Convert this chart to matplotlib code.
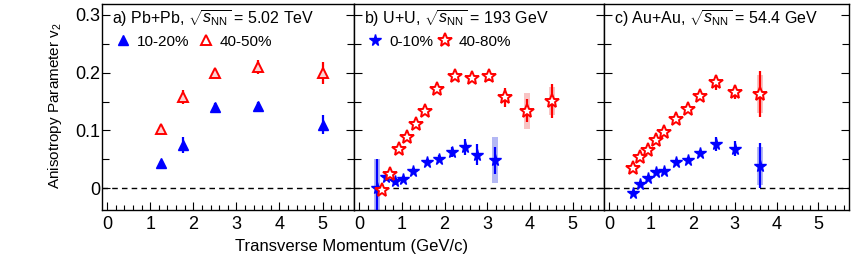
import matplotlib
matplotlib.use("Agg")
import matplotlib.pyplot as plt
from matplotlib import font_manager
from matplotlib.patches import Rectangle
from matplotlib.lines import Line2D
from matplotlib.ticker import MultipleLocator
import numpy as np

names = {f.name for f in font_manager.fontManager.ttflist}
FONT = "Liberation Sans" if "Liberation Sans" in names else "DejaVu Sans"
NARROW = "Liberation Sans Narrow" if "Liberation Sans Narrow" in names else FONT
plt.rcParams["font.family"] = [FONT, "DejaVu Sans"]
plt.rcParams["mathtext.fontset"] = "custom"
plt.rcParams["mathtext.rm"] = FONT
plt.rcParams["mathtext.it"] = FONT + ":italic"

# ---------------- data ----------------
# a) Pb+Pb 5.02 TeV
pb_x = [1.25, 1.75, 2.5, 3.5, 5.0]
pb_1020 = [0.043, 0.075, 0.141, 0.142, 0.110]
pb_1020_err = [0.004, 0.014, 0.006, 0.007, 0.016]
pb_4050 = [0.102, 0.158, 0.200, 0.210, 0.200]
pb_4050_err = [0.005, 0.012, 0.007, 0.012, 0.019]

# b) U+U 193 GeV
uu_x_c = [0.42, 0.63, 0.85, 1.03, 1.27, 1.58, 1.87, 2.18, 2.47, 2.76, 3.17]
uu_010 = [0.000, 0.020, 0.012, 0.016, 0.029, 0.046, 0.051, 0.062, 0.071, 0.058, 0.048]
uu_010_err = [0.050, 0.008, 0.006, 0.005, 0.005, 0.005, 0.006, 0.009, 0.014, 0.018, 0.023]
uu_010_sys = [0.050, 0.0, 0.0, 0.0, 0.0, 0.0, 0.0, 0.0, 0.0, 0.0, 0.040]
uu_x_p = [0.53, 0.73, 0.94, 1.13, 1.34, 1.53, 1.83, 2.24, 2.64, 3.03, 3.42, 3.92, 4.52]
uu_4080 = [-0.003, 0.024, 0.068, 0.089, 0.111, 0.134, 0.171, 0.195, 0.190, 0.194, 0.157, 0.134, 0.151]
uu_4080_err = [0.004, 0.004, 0.004, 0.004, 0.004, 0.005, 0.005, 0.006, 0.006, 0.008, 0.017, 0.020, 0.030]
uu_4080_sys = [0, 0, 0, 0, 0, 0, 0, 0, 0, 0, 0, 0.031, 0.025]

# c) Au+Au 54.4 GeV
au_x = [0.57, 0.74, 0.94, 1.13, 1.32, 1.60, 1.89, 2.17, 2.55, 3.00, 3.61]
au_c = [-0.009, 0.007, 0.018, 0.027, 0.030, 0.045, 0.049, 0.061, 0.076, 0.068, 0.039]
au_c_err = [0.004, 0.003, 0.003, 0.003, 0.003, 0.004, 0.004, 0.005, 0.012, 0.013, 0.039]
au_c_sys = [0, 0, 0, 0, 0, 0, 0, 0, 0, 0, 0.033]
au_p = [0.035, 0.053, 0.066, 0.083, 0.097, 0.119, 0.137, 0.159, 0.183, 0.166, 0.163]
au_p_err = [0.004, 0.004, 0.004, 0.004, 0.004, 0.004, 0.005, 0.006, 0.013, 0.012, 0.040]
au_p_sys = [0, 0, 0, 0, 0, 0, 0, 0, 0, 0, 0.033]

xticks = [0, 1, 2, 3, 4, 5]
yticks = [0, 0.1, 0.2, 0.3]
ytick_labels = ["0", "0.1", "0.2", "0.3"]

BLUE = "#0000ff"
RED = "#ff0000"
LBLUE = "#b4b8f4"
LRED = "#f8c4c4"

W, H = 851, 266
fig = plt.figure(figsize=(W / 100, H / 100), dpi=100)

def px_axes(x0, x1, y0=4, y1=210):
    return fig.add_axes([x0 / W, 1 - y1 / H, (x1 - x0) / W, (y1 - y0) / H])

axes = [px_axes(102, 354), px_axes(354, 604), px_axes(604, 849)]

for i, ax in enumerate(axes):
    ax.set_xlim(-0.12, 5.73)
    ax.set_ylim(-0.038, 0.319)
    ax.axhline(0, color="black", lw=1.0, ls=(0, (4, 3)), zorder=1)
    ax.xaxis.set_major_locator(MultipleLocator(1))
    ax.xaxis.set_minor_locator(MultipleLocator(0.2))
    ax.yaxis.set_major_locator(MultipleLocator(0.1))
    ax.yaxis.set_minor_locator(MultipleLocator(0.05))
    ax.tick_params(which="both", direction="in", top=False, right=True,
                   width=0.8, colors="black")
    ax.tick_params(which="major", length=6)
    ax.tick_params(which="minor", length=3.5)
    ax.tick_params(axis="y", which="minor", length=5)
    ax.set_xticks(xticks)
    ax.set_xticklabels([str(t) for t in xticks], fontsize=13, family=NARROW)
    ax.tick_params(axis="x", pad=4)
    ax.set_yticks(yticks)
    if i == 0:
        ax.set_yticklabels(ytick_labels, fontsize=13)
        ax.tick_params(axis="y", pad=1)
    else:
        ax.set_yticklabels([])
    for s in ax.spines.values():
        s.set_linewidth(1.0)

def sys_boxes(ax, x, y, s, color):
    for xi, yi, si in zip(x, y, s):
        if si > 0:
            ax.add_patch(Rectangle((xi - 0.07, yi - si), 0.14, 2 * si,
                                   facecolor=color, edgecolor="none", zorder=2))

def proxy(marker, ms, mfc, mec, mew=1.0):
    return Line2D([], [], ls="none", marker=marker, ms=ms, mfc=mfc, mec=mec, mew=mew)

# panel a
ax = axes[0]
ax.errorbar(pb_x, pb_1020, yerr=pb_1020_err, fmt="^", color=BLUE, ms=6.5,
            elinewidth=1.6, capsize=0, mec=BLUE, mfc=BLUE, zorder=4)
ax.errorbar(pb_x, pb_4050, yerr=pb_4050_err, fmt="^", color=RED, ms=6.5,
            elinewidth=1.6, capsize=0, mec=RED, mfc="#fbd4d4", mew=1.4, zorder=4)
ax.text(0.04, 0.975, r"a) Pb+Pb, $\sqrt{s_{\rm NN}}$ = 5.02 TeV", transform=ax.transAxes,
        fontsize=11.5, va="top", ha="left")
ax.legend([proxy("^", 6.5, BLUE, BLUE), proxy("^", 6.5, "white", RED, 1.4)],
          ["10-20%", "40-50%"],
          loc="upper left", bbox_to_anchor=(0.03, 0.88), ncol=2, frameon=False,
          fontsize=11, handlelength=1.0, handletextpad=0.4, columnspacing=0.55,
          borderaxespad=0)

# panel b
ax = axes[1]
sys_boxes(ax, uu_x_c, uu_010, uu_010_sys, LBLUE)
sys_boxes(ax, uu_x_p, uu_4080, uu_4080_sys, LRED)
ax.errorbar(uu_x_c, uu_010, yerr=uu_010_err, fmt="*", color=BLUE, ms=8.5,
            elinewidth=1.6, capsize=0, mec=BLUE, mfc=BLUE, zorder=4)
ax.errorbar(uu_x_p, uu_4080, yerr=uu_4080_err, fmt="*", color=RED, ms=10,
            elinewidth=1.6, capsize=0, mec=RED, mfc="white", mew=1.4, zorder=4)
ax.text(0.04, 0.975, r"b) U+U, $\sqrt{s_{\rm NN}}$ = 193 GeV", transform=ax.transAxes,
        fontsize=11.5, va="top", ha="left")
ax.legend([proxy("*", 8.5, BLUE, BLUE), proxy("*", 10, "white", RED, 1.4)],
          ["0-10%", "40-80%"],
          loc="upper left", bbox_to_anchor=(0.03, 0.88), ncol=2, frameon=False,
          fontsize=11, handlelength=1.0, handletextpad=0.4, columnspacing=0.3,
          borderaxespad=0)

# panel c
ax = axes[2]
sys_boxes(ax, au_x, au_c, au_c_sys, LBLUE)
sys_boxes(ax, au_x, au_p, au_p_sys, LRED)
ax.errorbar(au_x, au_c, yerr=au_c_err, fmt="*", color=BLUE, ms=8.5,
            elinewidth=1.6, capsize=0, mec=BLUE, mfc=BLUE, zorder=4)
ax.errorbar(au_x, au_p, yerr=au_p_err, fmt="*", color=RED, ms=10,
            elinewidth=1.6, capsize=0, mec=RED, mfc="white", mew=1.4, zorder=4)
ax.text(0.04, 0.975, r"c) Au+Au, $\sqrt{s_{\rm NN}}$ = 54.4 GeV", transform=ax.transAxes,
        fontsize=11.5, va="top", ha="left")

fig.text(352 / W, 1 - 247 / H, "Transverse Momentum (GeV/c)", ha="center", va="center",
         fontsize=12, family=NARROW)
fig.text(55 / W, 1 - 106 / H, r"Anisotropy Parameter v$_2$", ha="center", va="center",
         rotation=90, fontsize=11)

fig.savefig("out.png", dpi=100)
